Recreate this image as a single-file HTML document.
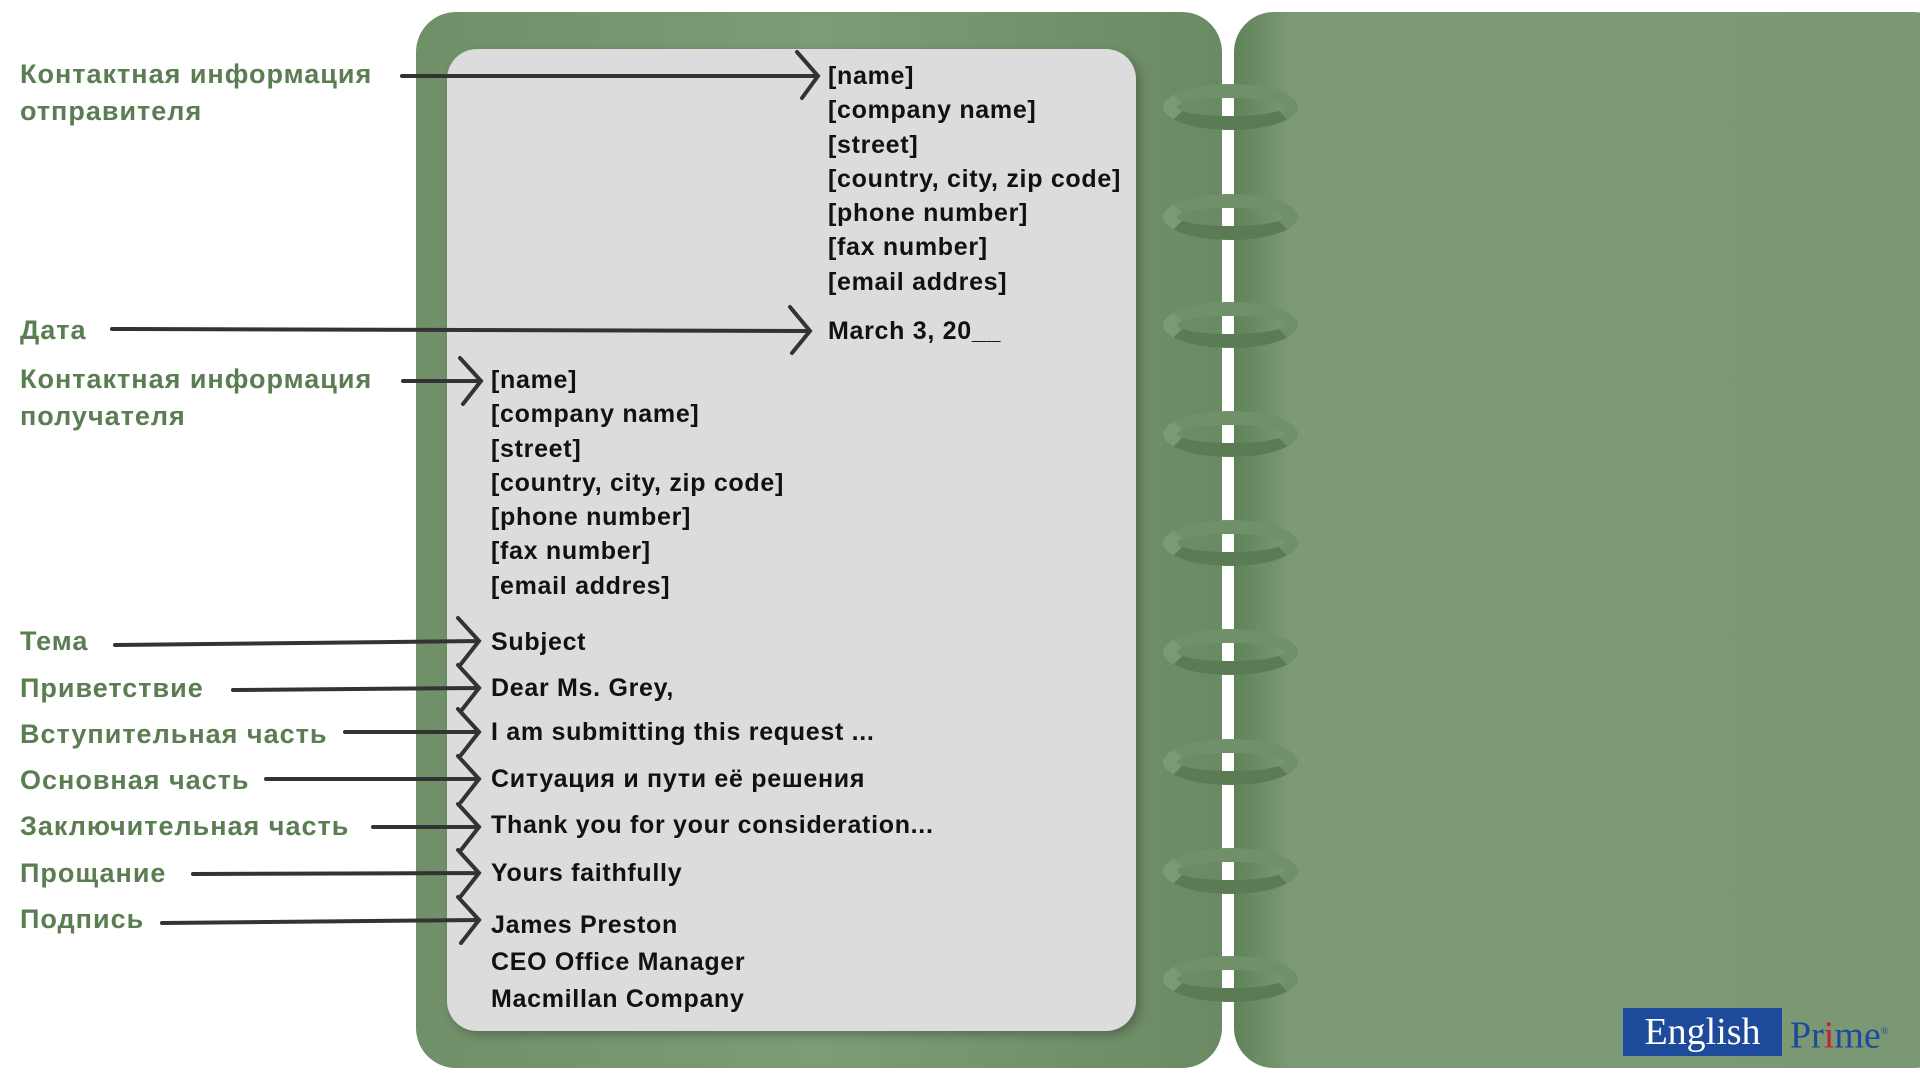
<!DOCTYPE html>
<html><head><meta charset="utf-8"><style>
body{margin:0;width:1920px;height:1080px;background:#fff;position:relative;overflow:hidden;font-family:"Liberation Sans",sans-serif}
.cover{position:absolute;border-radius:40px}
#lc{left:416px;top:12px;width:806px;height:1056px;background:linear-gradient(90deg,#6f9068,#7c9c76 50%,#6a8a63);}
#rc{left:1234px;top:12px;width:720px;height:1056px;background:linear-gradient(90deg,#5f8257,#7c9a76 8%,#7a9874);}
#paper{position:absolute;left:447px;top:49px;width:689px;height:982px;background:#dcdcdc;border-radius:30px;box-shadow:4px 4px 10px rgba(0,0,0,.25)}
.t{position:absolute;font-weight:bold;font-size:25px;letter-spacing:0.7px;color:#111;white-space:nowrap;line-height:28px}
.l{position:absolute;font-weight:bold;font-size:27px;letter-spacing:1px;color:#5a7d52;white-space:nowrap;line-height:37px;left:20px}
.ring{position:absolute;left:1163px;width:135px;height:46px;border:14px solid #6f9069;border-bottom-color:#5b7b55;border-radius:50%;box-sizing:border-box;border-left-color:#7a9a74}
.gap{position:absolute;left:1222px;width:12px;background:#fff}
</style></head><body>
<div class="cover" id="lc"></div>
<div class="cover" id="rc"></div>
<div class="gap" style="top:110px;height:940px"></div>
<div id="paper"></div>
<div class="ring" style="top:84px"></div>
<div class="ring" style="top:194px"></div>
<div class="ring" style="top:302px"></div>
<div class="ring" style="top:411px"></div>
<div class="ring" style="top:520px"></div>
<div class="ring" style="top:629px"></div>
<div class="ring" style="top:739px"></div>
<div class="ring" style="top:848px"></div>
<div class="ring" style="top:956px"></div>

<div class="l" style="top:56px">Контактная информация<br>отправителя</div>
<div class="l" style="top:312px">Дата</div>
<div class="l" style="top:361px">Контактная информация<br>получателя</div>
<div class="l" style="top:623px">Тема</div>
<div class="l" style="top:670px">Приветствие</div>
<div class="l" style="top:716px">Вступительная часть</div>
<div class="l" style="top:762px">Основная часть</div>
<div class="l" style="top:808px">Заключительная часть</div>
<div class="l" style="top:855px">Прощание</div>
<div class="l" style="top:901px">Подпись</div>

<div class="t" style="left:828px;top:59px;line-height:34.3px">[name]<br>[company name]<br>[street]<br>[country, city, zip code]<br>[phone number]<br>[fax number]<br>[email addres]</div>
<div class="t" style="left:828px;top:317px">March 3, 20__</div>
<div class="t" style="left:491px;top:363px;line-height:34.3px">[name]<br>[company name]<br>[street]<br>[country, city, zip code]<br>[phone number]<br>[fax number]<br>[email addres]</div>
<div class="t" style="left:491px;top:628px">Subject</div>
<div class="t" style="left:491px;top:674px">Dear Ms. Grey,</div>
<div class="t" style="left:491px;top:718px">I am submitting this request ...</div>
<div class="t" style="left:491px;top:765px">Ситуация и пути её решения</div>
<div class="t" style="left:491px;top:811px">Thank you for your consideration...</div>
<div class="t" style="left:491px;top:859px">Yours faithfully</div>
<div class="t" style="left:491px;top:907px;line-height:37px">James Preston<br>CEO Office Manager<br>Macmillan Company</div>

<svg width="1920" height="1080" style="position:absolute;left:0;top:0" fill="none" stroke="#333" stroke-width="4" stroke-linecap="round">
<path d="M402 76 L818 76 M797 52 L818 76 L802 98"/>
<path d="M112 329 L810 331 M790 307 L810 331 L792 353"/>
<path d="M403 381 L481 381 M460 358 L481 381 L463 404"/>
<path d="M115 645 L479 641 M458 618 L479 641 L461 664"/>
<path d="M233 690 L479 688 M458 665 L479 688 L461 711"/>
<path d="M345 732 L479 732 M458 709 L479 732 L461 755"/>
<path d="M266 779 L479 779 M458 756 L479 779 L461 802"/>
<path d="M373 827 L479 827 M458 804 L479 827 L461 850"/>
<path d="M193 874 L479 873 M458 850 L479 873 L461 896"/>
<path d="M162 923 L479 920 M458 897 L479 920 L461 943"/>
</svg>

<div style="position:absolute;left:1623px;top:1008px;width:159px;height:48px;background:#1d4a9a;color:#fff;font-family:'Liberation Serif',serif;font-size:38px;line-height:48px;text-align:center">English</div>
<div style="position:absolute;left:1790px;top:1008px;color:#1d4a9a;font-family:'Liberation Serif',serif;font-size:38px;line-height:48px">Pr<span style="color:#c8202a">i</span>me<sup style="font-size:10px">®</sup></div>
</body></html>
